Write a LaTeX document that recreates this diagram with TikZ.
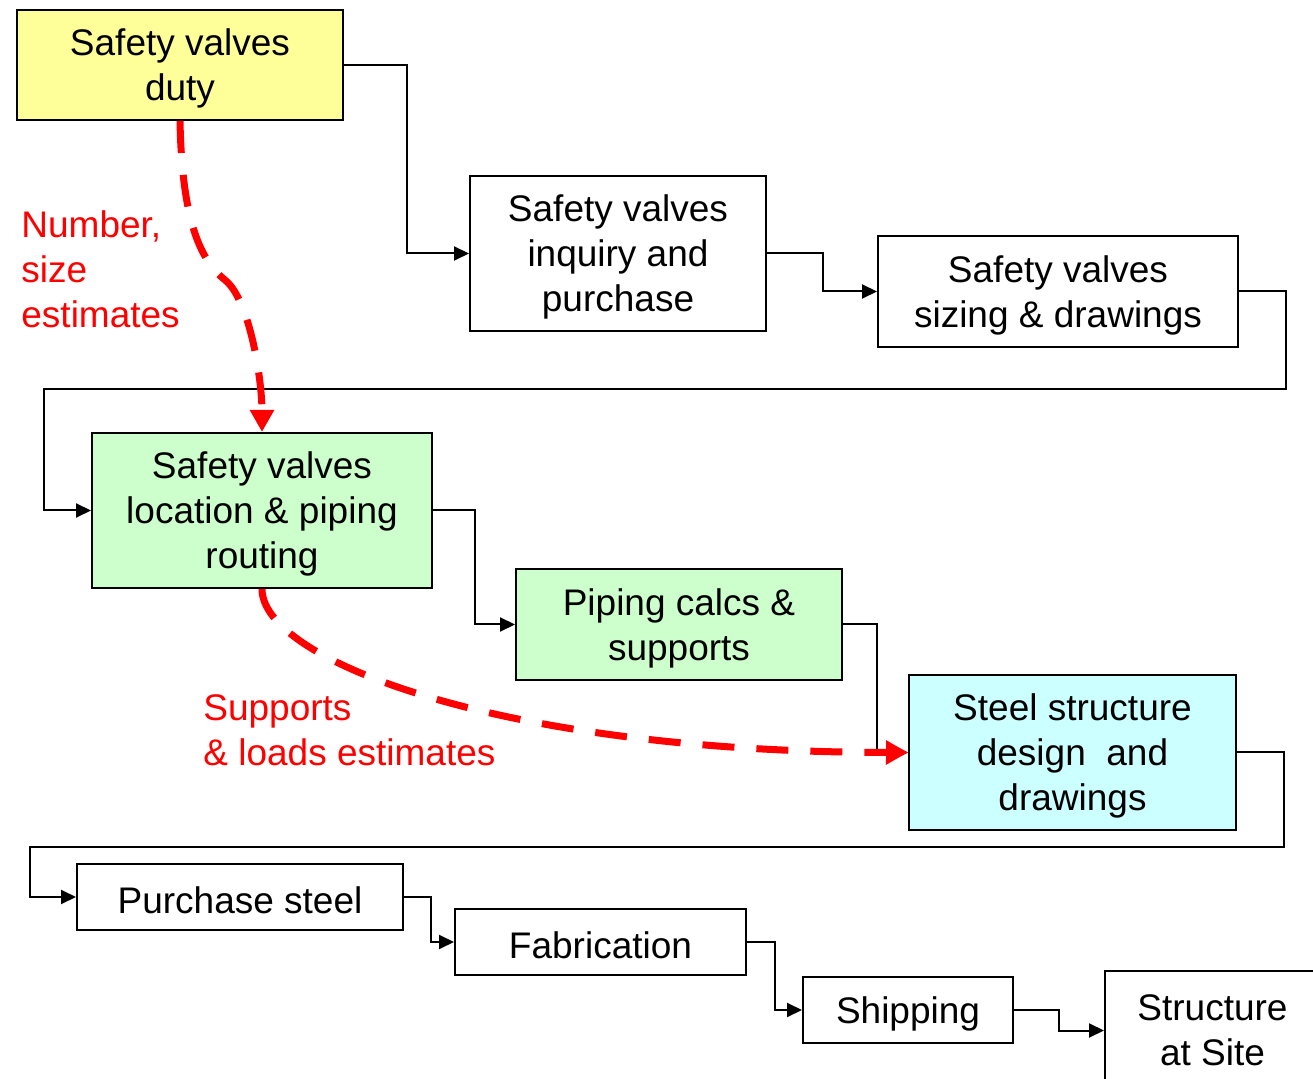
\documentclass[tikz,border=0pt]{standalone}
\usepackage{fontspec}
\setmainfont{Liberation Sans}
\usetikzlibrary{arrows.meta}
\definecolor{yfill}{HTML}{FFFF99}
\definecolor{gfill}{HTML}{CCFFCC}
\definecolor{cfill}{HTML}{CCFFFF}
\newcommand\toppad{\rule{0pt}{17pt}}
\begin{document}
\begin{tikzpicture}[x=0.5pt,y=-0.5pt,
  box/.style={draw=black, line width=1pt, inner sep=0pt, align=center,
    font=\fontsize{18.5pt}{22.5pt}\selectfont},
  conn/.style={draw=black, line width=1pt, -{Triangle[length=7.5pt,width=7pt]}},
  est/.style={draw=red, line width=3.5pt, dash pattern=on 16pt off 11pt,
    -{Triangle[length=11pt,width=11.5pt]}},
  lbl/.style={text=red, inner sep=0pt, align=left,
    font=\fontsize{18.5pt}{22.5pt}\selectfont}]
\useasboundingbox (0,0) rectangle (1313,1079);

\node[box, fill=yfill, minimum width=163pt, minimum height=55pt] (A) at (180,65) {\toppad Safety valves\\duty};
\node[box, fill=white, minimum width=148pt, minimum height=77.5pt] (B) at (618,253.5) {\toppad Safety valves\\inquiry and\\purchase};
\node[box, fill=white, minimum width=180pt, minimum height=55.5pt] (C) at (1058,291.5) {\toppad Safety valves\\sizing \& drawings};
\node[box, fill=gfill, minimum width=170pt, minimum height=77.5pt] (D) at (262,510.5) {\toppad Safety valves\\location \& piping\\routing};
\node[box, fill=gfill, minimum width=163pt, minimum height=55.5pt] (E) at (679,624.5) {\toppad Piping calcs \&\\supports};
\node[box, fill=cfill, minimum width=163.5pt, minimum height=77.5pt] (F) at (1072.5,752.5) {\toppad Steel structure\\design\ \ and\\drawings};
\node[box, fill=white, minimum width=163pt, minimum height=33pt] (G) at (240,897) {\toppad Purchase steel};
\node[box, fill=white, minimum width=145.5pt, minimum height=33pt] (H) at (600.5,942) {\toppad Fabrication};
\node[box, fill=white, minimum width=105pt, minimum height=33pt] (I) at (908,1010) {\toppad Shipping};
\node[box, fill=white, minimum width=107.5pt, minimum height=59.5pt] (J) at (1212.5,1030.5) {Structure\\at Site};

\node[lbl, anchor=west] (n1) at (21,269) {Number,\\size\\estimates};
\node[lbl, anchor=west] (n2) at (203,730) {Supports\\\& loads estimates};

\coordinate (r1) at (44,389);
\coordinate (r2) at (30,847);

\draw[conn] (A.east) -- ++(63,0) |- (B.west);
\draw[conn] (B.east) -- ++(56,0) |- (C.west);
\draw[conn] (C.east) -- ++(47,0) |- (r1) |- (D.west);
\draw[conn] (D.east) -- ++(42,0) |- (E.west);
\draw[conn] (E.east) -- ++(34,0) |- (F.west);
\draw[conn] (F.east) -- ++(47,0) |- (r2) |- (G.west);
\draw[conn] (G.east) -- ++(27,0) |- (H.west);
\draw[conn] (H.east) -- ++(28,0) |- (I.west);
\draw[conn] (I.east) -- ++(45,0) |- (J.west);

\draw[est] (A.south) .. controls (182,220) and (200,260) .. (225,280)
  .. controls (250,300) and (262,380) .. (D.north);
\draw[est] (D.south) .. controls (262,660) and (500,752) .. (F.west);
\end{tikzpicture}
\end{document}
